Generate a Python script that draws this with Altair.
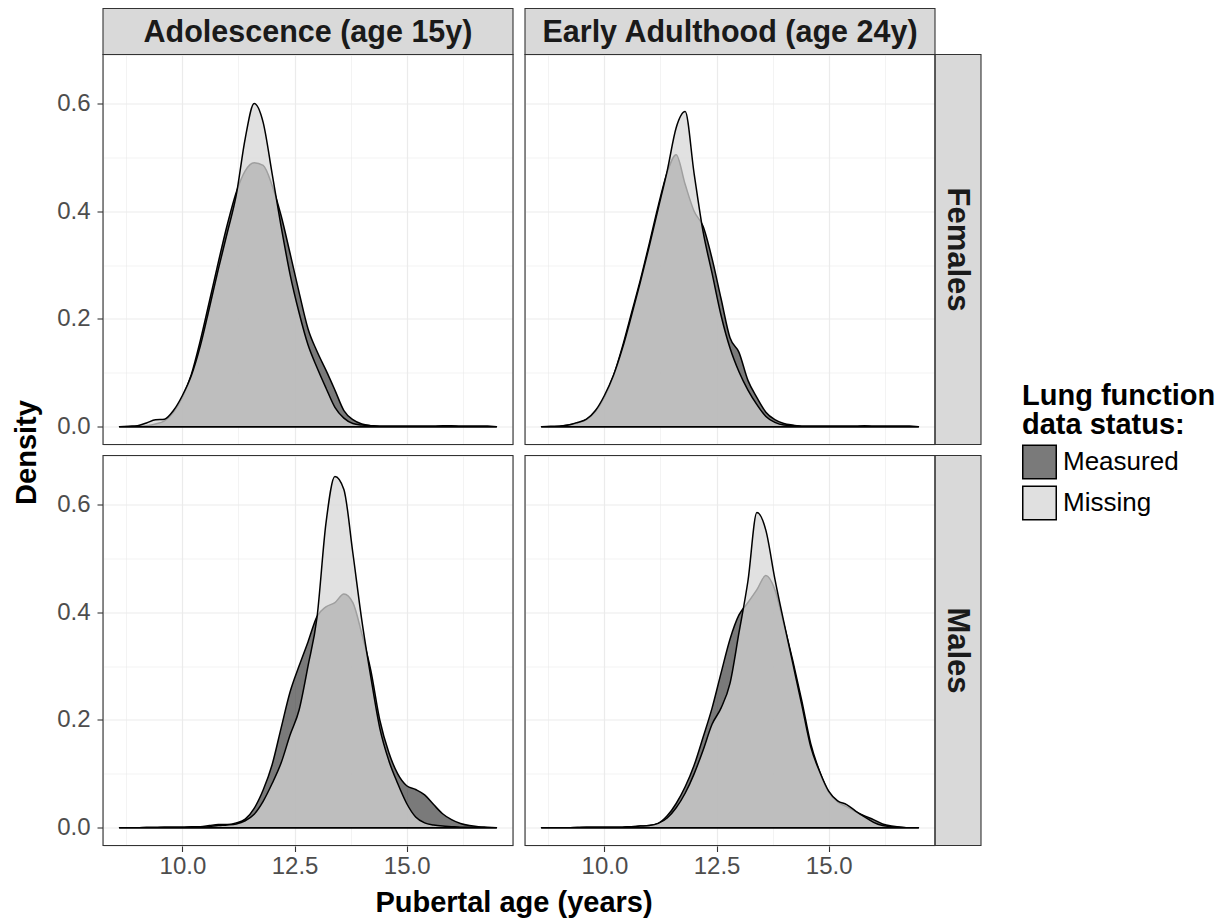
import altair as alt
import pandas as pd

# ---------------- data ----------------
X_GRID = [8.6, 8.8, 9.0, 9.2, 9.4, 9.6, 9.8, 10.0, 10.2, 10.4, 10.6, 10.8, 11.0,
          11.2, 11.4, 11.6, 11.8, 12.0, 12.2, 12.4, 12.6, 12.8, 13.0, 13.2, 13.4,
          13.6, 13.8, 14.0, 14.2, 14.4, 14.6, 14.8, 15.0, 15.2, 15.4, 15.6, 15.8,
          16.0, 16.2, 16.4, 16.6, 16.8, 17.0]

PERIODS = ["Adolescence (age 15y)", "Early Adulthood (age 24y)"]
SEXES = ["Females", "Males"]
STATUSES = ["Measured", "Missing"]
X_TITLE = "Pubertal age (years)"
Y_TITLE = "Density"

ado_f_measured = [0.000, 0.000, 0.001, 0.002, 0.005, 0.011, 0.027, 0.055, 0.097, 0.160,
                  0.232, 0.305, 0.375, 0.435, 0.475, 0.490, 0.485, 0.448, 0.392, 0.322,
                  0.250, 0.182, 0.140, 0.105, 0.068, 0.030, 0.013, 0.005, 0.002, 0.001,
                  0.001, 0.001, 0.001, 0.001, 0.001, 0.001, 0.001, 0.001, 0.001, 0.001,
                  0.001, 0.001, 0.000]
ado_f_missing = [0.000, 0.001, 0.002, 0.007, 0.013, 0.014, 0.030, 0.058, 0.095, 0.150,
                 0.220, 0.292, 0.360, 0.430, 0.535, 0.600, 0.565, 0.470, 0.372, 0.283,
                 0.212, 0.152, 0.110, 0.072, 0.036, 0.016, 0.006, 0.003, 0.002, 0.001,
                 0.001, 0.001, 0.001, 0.001, 0.001, 0.001, 0.002, 0.002, 0.001, 0.001,
                 0.001, 0.001, 0.000]
ea_f_measured = [0.000, 0.000, 0.001, 0.003, 0.007, 0.013, 0.028, 0.055, 0.094, 0.148,
                 0.210, 0.272, 0.340, 0.410, 0.472, 0.505, 0.450, 0.400, 0.372, 0.312,
                 0.238, 0.165, 0.138, 0.086, 0.054, 0.027, 0.013, 0.006, 0.003, 0.001,
                 0.001, 0.001, 0.001, 0.001, 0.001, 0.001, 0.001, 0.001, 0.001, 0.001,
                 0.001, 0.001, 0.000]
ea_f_missing = [0.000, 0.001, 0.001, 0.003, 0.008, 0.014, 0.030, 0.058, 0.095, 0.145,
                0.205, 0.268, 0.335, 0.405, 0.475, 0.555, 0.585, 0.470, 0.362, 0.285,
                0.207, 0.146, 0.102, 0.068, 0.041, 0.019, 0.008, 0.003, 0.002, 0.001,
                0.001, 0.001, 0.001, 0.001, 0.001, 0.001, 0.002, 0.001, 0.001, 0.001,
                0.001, 0.001, 0.000]
ado_m_measured = [0.000, 0.000, 0.000, 0.001, 0.001, 0.001, 0.001, 0.001, 0.002, 0.002,
                  0.004, 0.006, 0.006, 0.009, 0.016, 0.036, 0.070, 0.117, 0.185, 0.252,
                  0.300, 0.345, 0.392, 0.410, 0.418, 0.434, 0.418, 0.360, 0.292, 0.200,
                  0.140, 0.100, 0.078, 0.071, 0.061, 0.043, 0.026, 0.015, 0.008, 0.004,
                  0.002, 0.001, 0.000]
ado_m_missing = [0.000, 0.000, 0.000, 0.000, 0.000, 0.001, 0.001, 0.001, 0.001, 0.001,
                 0.002, 0.004, 0.005, 0.007, 0.013, 0.025, 0.049, 0.082, 0.120, 0.172,
                 0.218, 0.300, 0.390, 0.565, 0.652, 0.628, 0.510, 0.385, 0.280, 0.185,
                 0.125, 0.082, 0.045, 0.020, 0.009, 0.005, 0.003, 0.002, 0.001, 0.001,
                 0.001, 0.000, 0.000]
ea_m_measured = [0.000, 0.000, 0.000, 0.000, 0.001, 0.001, 0.001, 0.001, 0.001, 0.001,
                 0.002, 0.003, 0.004, 0.008, 0.022, 0.045, 0.076, 0.116, 0.168, 0.222,
                 0.287, 0.350, 0.395, 0.418, 0.442, 0.468, 0.442, 0.378, 0.310, 0.236,
                 0.156, 0.104, 0.066, 0.048, 0.039, 0.030, 0.022, 0.015, 0.007, 0.003,
                 0.001, 0.000, 0.000]
ea_m_missing = [0.000, 0.000, 0.000, 0.000, 0.000, 0.001, 0.001, 0.001, 0.001, 0.001,
                0.002, 0.003, 0.004, 0.008, 0.018, 0.037, 0.064, 0.100, 0.144, 0.192,
                0.222, 0.268, 0.362, 0.458, 0.585, 0.552, 0.462, 0.382, 0.305, 0.228,
                0.150, 0.104, 0.068, 0.050, 0.043, 0.031, 0.020, 0.010, 0.004, 0.002,
                0.001, 0.000, 0.000]

X_TICKS = [8.75, 10.0, 11.25, 12.5, 13.75, 15.0, 16.25]
Y_TICKS = [0.0, 0.1, 0.2, 0.3, 0.4, 0.5, 0.6]

curves = [
    (PERIODS[0], SEXES[0], STATUSES[0], ado_f_measured),
    (PERIODS[0], SEXES[0], STATUSES[1], ado_f_missing),
    (PERIODS[1], SEXES[0], STATUSES[0], ea_f_measured),
    (PERIODS[1], SEXES[0], STATUSES[1], ea_f_missing),
    (PERIODS[0], SEXES[1], STATUSES[0], ado_m_measured),
    (PERIODS[0], SEXES[1], STATUSES[1], ado_m_missing),
    (PERIODS[1], SEXES[1], STATUSES[0], ea_m_measured),
    (PERIODS[1], SEXES[1], STATUSES[1], ea_m_missing),
]

rows = []
for p, s, st, ys in curves:
    for xv, yv in zip(X_GRID, ys):
        rows.append({"kind": "curve", "period": p, "sex": s, "status": st,
                     "x": xv, "density": yv, "label": ""})
for p in PERIODS:
    rows.append({"kind": "top", "period": p, "sex": SEXES[0], "status": None,
                 "x": None, "density": None, "label": p})
for s in SEXES:
    rows.append({"kind": "right", "period": PERIODS[1], "sex": s, "status": None,
                 "x": None, "density": None, "label": s})
for p in PERIODS:
    for s in SEXES:
        rows.append({"kind": "frame", "period": p, "sex": s, "status": None,
                     "x": None, "density": None, "label": ""})
# shared axis titles live in the bottom-left panel and are centred on the panel block
rows.append({"kind": "xtitle", "period": PERIODS[0], "sex": SEXES[1], "status": None,
             "x": None, "density": None, "label": X_TITLE})
rows.append({"kind": "ytitle", "period": PERIODS[0], "sex": SEXES[1], "status": None,
             "x": None, "density": None, "label": Y_TITLE})
df = pd.DataFrame(rows)

# ---------------- styling ----------------
W, H = 410, 390
STRIP = 46
FONT = "Liberation Sans"
xmajor = "datum.value % 2.5 == 0"
ymajor = "round(datum.value * 10) % 2 == 0"

x_axis = alt.Axis(
    values=X_TICKS, title=None, grid=True, gridColor="#ebebeb",
    gridWidth={"condition": {"test": "!(" + xmajor + ")", "value": 0.6}, "value": 1.2},
    tickOpacity={"condition": {"test": "!(" + xmajor + ")", "value": 0}, "value": 1},
    labelExpr="(" + xmajor + ") ? format(datum.value, '.1f') : ''",
    tickColor="#333333", tickSize=6, tickWidth=1.1, domain=False,
    labelFontSize=24, labelColor="#4d4d4d", labelFont=FONT, labelPadding=3,
    labelFlush=False, labelOverlap=False,
)
y_axis = alt.Axis(
    values=Y_TICKS, title=None, grid=True, gridColor="#ebebeb",
    gridWidth={"condition": {"test": "!(" + ymajor + ")", "value": 0.6}, "value": 1.2},
    tickOpacity={"condition": {"test": "!(" + ymajor + ")", "value": 0}, "value": 1},
    labelExpr="(" + ymajor + ") ? format(datum.value, '.1f') : ''",
    tickColor="#333333", tickSize=6, tickWidth=1.1, domain=False,
    labelFontSize=24, labelColor="#4d4d4d", labelFont=FONT, labelPadding=7,
    labelFlush=False, labelOverlap=False,
)

x_enc = alt.X("x:Q", scale=alt.Scale(domain=[8.23, 17.37], nice=False, zero=False), axis=x_axis)
y_enc = alt.Y("density:Q", stack=None,
              scale=alt.Scale(domain=[-0.033, 0.691], nice=False, zero=False), axis=y_axis)

# area fill scale: data-driven domain (sorted: Measured, Missing), no legend of its own
areas = alt.Chart().mark_area(
    interpolate="monotone", stroke="black", strokeWidth=1.5, fillOpacity=0.74,
    strokeJoin="round",
).encode(
    x=x_enc, y=y_enc,
    fill=alt.Fill("status:N", sort="ascending",
                  scale=alt.Scale(range=["#4b4b4b", "#d6d6d6"]), legend=None),
    order=alt.Order("status:N"),
).transform_filter("datum.kind == 'curve'")

# invisible points that only carry the legend (colours = fills blended on white)
legend_layer = alt.Chart().mark_square(filled=True, opacity=0).encode(
    x=x_enc, y=y_enc,
    color=alt.Color("status:N", scale=alt.Scale(domain=STATUSES, range=["#7a7a7a", "#e0e0e0"]),
                    legend=alt.Legend(
                        title=["Lung function", "data status:"], orient="none",
                        legendX=919, legendY=327,
                        titleFontSize=29, titleFontWeight="bold", titleColor="black",
                        titleFont=FONT, titleLineHeight=29, titlePadding=5, titleLimit=500,
                        labelFontSize=26, labelColor="black", labelFont=FONT, labelOffset=6,
                        labelLimit=500, symbolOpacity=1,
                        symbolType="square", symbolSize=1122, symbolStrokeColor="black",
                        symbolStrokeWidth=1.5, rowPadding=0,
                    )),
).transform_filter("datum.kind == 'curve'")

top_rect = alt.Chart().mark_rect(fill="#d9d9d9", stroke="#333333", strokeWidth=1.1).encode(
    x=alt.value(0), x2=alt.value(W), y=alt.value(-STRIP), y2=alt.value(0)
).transform_filter("datum.kind == 'top'")
top_text = alt.Chart().mark_text(
    font=FONT, fontSize=30.5, fontWeight="bold", color="#1a1a1a", baseline="middle", align="center"
).encode(
    x=alt.value(W / 2), y=alt.value(-STRIP / 2 + 1), text="label:N"
).transform_filter("datum.kind == 'top'")

right_rect = alt.Chart().mark_rect(fill="#d9d9d9", stroke="#333333", strokeWidth=1.1).encode(
    x=alt.value(W), x2=alt.value(W + STRIP), y=alt.value(0), y2=alt.value(H)
).transform_filter("datum.kind == 'right'")
right_text = alt.Chart().mark_text(
    font=FONT, fontSize=31, fontWeight="bold", color="#1a1a1a", baseline="middle",
    align="center", angle=90
).encode(
    x=alt.value(W + STRIP / 2 - 1), y=alt.value(H / 2), text="label:N"
).transform_filter("datum.kind == 'right'")

frame = alt.Chart().mark_rect(fill=None, stroke="#333333", strokeWidth=1.1).encode(
    x=alt.value(0), x2=alt.value(W), y=alt.value(0), y2=alt.value(H)
).transform_filter("datum.kind == 'frame'")

x_title = alt.Chart().mark_text(
    font=FONT, fontSize=29, fontWeight="bold", color="black", baseline="middle", align="center"
).encode(
    x=alt.value(W + 1), y=alt.value(H + 57), text="label:N"
).transform_filter("datum.kind == 'xtitle'")
y_title = alt.Chart().mark_text(
    font=FONT, fontSize=29, fontWeight="bold", color="black", baseline="middle",
    align="center", angle=270
).encode(
    x=alt.value(-76), y=alt.value(-3), text="label:N"
).transform_filter("datum.kind == 'ytitle'")

layered = alt.layer(areas, legend_layer, top_rect, top_text, right_rect, right_text, frame,
                    x_title, y_title, data=df).properties(width=W, height=H)

chart = layered.facet(
    row=alt.Row("sex:N", sort=SEXES, title=None, header=alt.Header(labels=False)),
    column=alt.Column("period:N", sort=PERIODS, title=None, header=alt.Header(labels=False)),
    spacing={"row": 11, "column": 12},
    bounds="flush",
).properties(
    padding={"left": 12, "top": 6.5, "right": 4, "bottom": 4}
).configure_view(
    stroke=None
).configure(font=FONT, background="white")

chart.save("out.html", embed_options={"renderer": "svg", "actions": False})
